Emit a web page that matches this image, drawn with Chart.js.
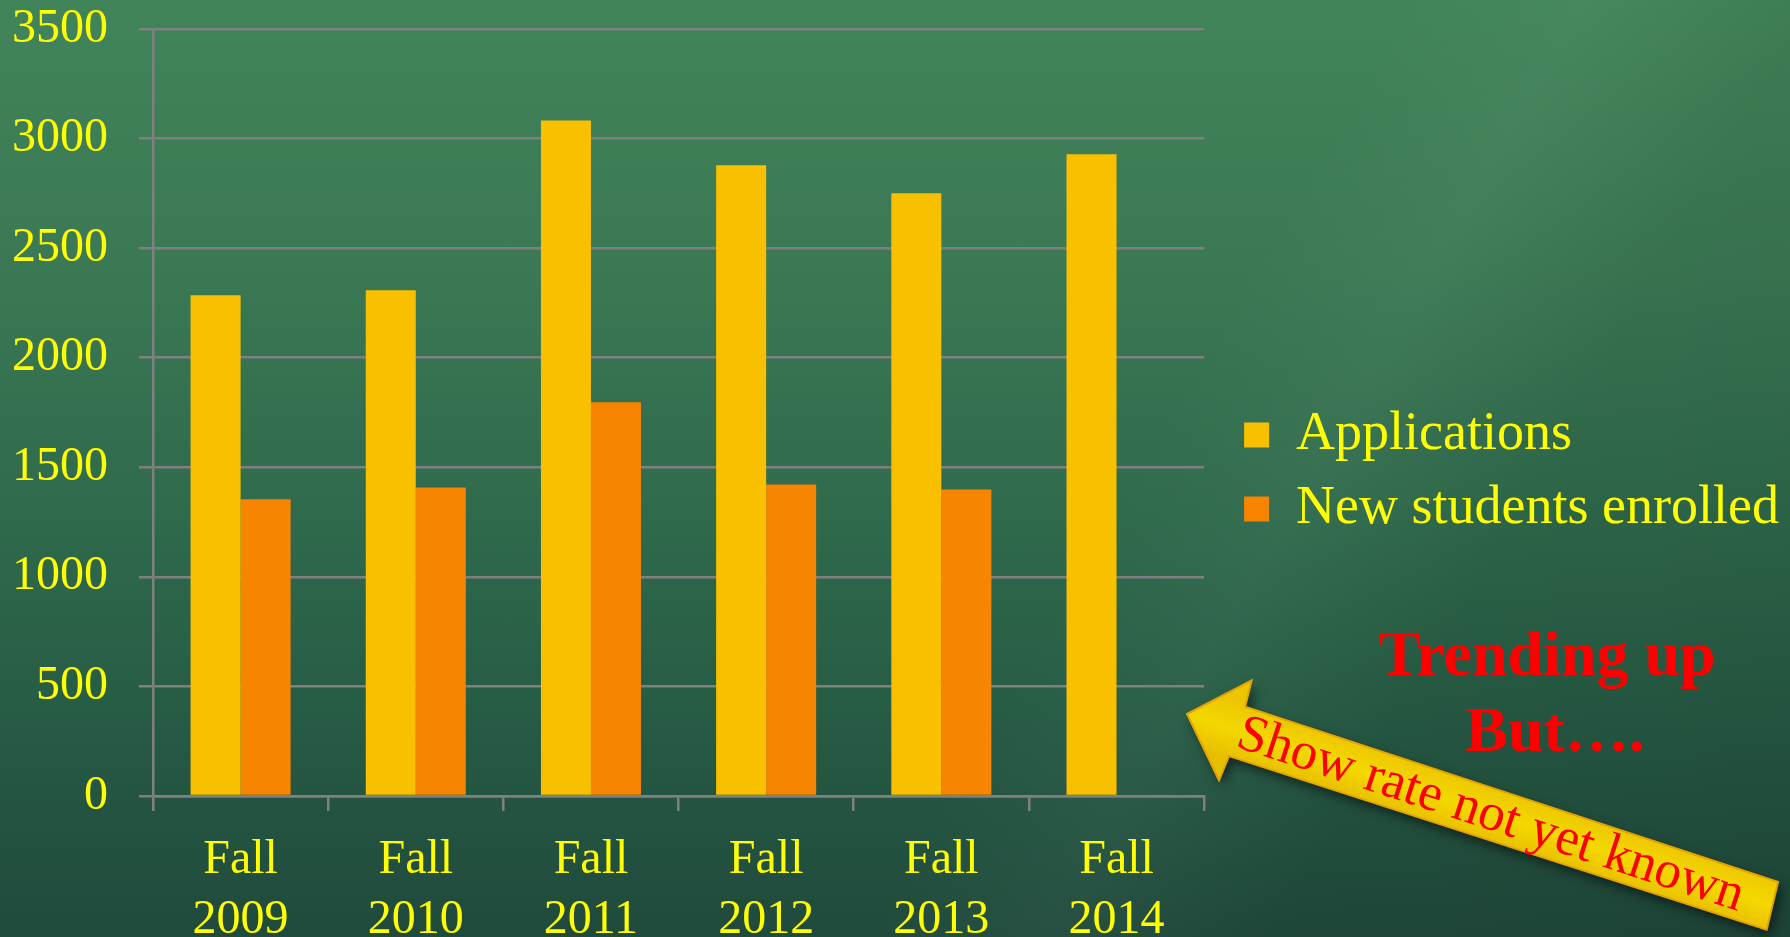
<!DOCTYPE html>
<html>
<head>
<meta charset="utf-8">
<script src="https://cdn.jsdelivr.net/npm/chart.js@4.4.1/dist/chart.umd.min.js"></script>
<style>
  html, body { margin: 0; padding: 0; }
  body {
    width: 1790px;
    height: 937px;
    overflow: hidden;
    background:
      linear-gradient(120deg, rgba(255,255,255,0) 60%, rgba(255,255,255,0.03) 68%, rgba(0,0,0,0.06) 78%, rgba(0,0,0,0.1) 100%),
      linear-gradient(180deg, #41845a 0%, #3b7954 28%, #2f6a4c 55%, #265a44 78%, #204a3c 100%);
  }
  #wrap { position: relative; width: 1790px; height: 937px; }
</style>
</head>
<body>
<div id="wrap"><canvas id="enrollment-chart" width="1790" height="937"></canvas></div>
<script>
const CATEGORIES = [['Fall', '2009'], ['Fall', '2010'], ['Fall', '2011'], ['Fall', '2012'], ['Fall', '2013'], ['Fall', '2014']];
const APPLICATIONS = [2285, 2308, 3082, 2878, 2750, 2928];
const ENROLLED = [1354, 1408, 1797, 1421, 1399, null];
const SERIES_NAMES = ['Applications', 'New students enrolled'];
const Y_TICKS = [0, 500, 1000, 1500, 2000, 2500, 3000, 3500];
const NOTE_LINES = ['Trending up', 'But….'];
const ARROW_TEXT = 'Show rate not yet known';

const YELLOW = '#FFFF00';
const GRID = '#808080';
const FONT = '"Liberation Serif", "Times New Roman", serif';

// red note + yellow arrow drawn over the finished chart
const slideNotes = {
  id: 'slideNotes',
  afterDraw(chart) {
    const { ctx } = chart;
    ctx.save();
    ctx.fillStyle = '#FF0000';
    ctx.font = `bold 64px ${FONT}`;
    ctx.textAlign = 'center';
    ctx.textBaseline = 'alphabetic';
    ctx.fillText(NOTE_LINES[0], 1547, 675);
    ctx.fillText(NOTE_LINES[1], 1555, 751);
    ctx.restore();

    ctx.save();
    ctx.translate(1187, 714);
    ctx.rotate(18.1 * Math.PI / 180);
    ctx.beginPath();
    ctx.moveTo(0, 0);
    ctx.lineTo(51, -52);
    ctx.lineTo(53, -25);
    ctx.lineTo(614, -24);
    ctx.lineTo(618, 25);
    ctx.lineTo(53, 27);
    ctx.lineTo(51, 53);
    ctx.closePath();
    const fill = ctx.createLinearGradient(0, -30, 0, 30);
    fill.addColorStop(0, '#ecc400');
    fill.addColorStop(0.5, '#f4d800');
    fill.addColorStop(1, '#e8be00');
    ctx.shadowColor = 'rgba(0,0,0,0.55)';
    ctx.shadowBlur = 12;
    ctx.shadowOffsetX = 4;
    ctx.shadowOffsetY = 6;
    ctx.fillStyle = fill;
    ctx.fill();
    ctx.shadowColor = 'transparent';
    ctx.strokeStyle = '#e4a400';
    ctx.lineWidth = 2;
    ctx.stroke();

    ctx.fillStyle = '#FF0000';
    ctx.font = `53px ${FONT}`;
    ctx.textAlign = 'center';
    ctx.textBaseline = 'alphabetic';
    ctx.fillText(ARROW_TEXT, 320, 16);
    ctx.restore();
  },
};

function render() {
  const el = document.getElementById('enrollment-chart');
  if (!el || typeof window.Chart === 'undefined') return;

  new Chart(el, {
    type: 'bar',
    data: {
      labels: CATEGORIES,
      datasets: [
        {
          label: SERIES_NAMES[0],
          data: APPLICATIONS,
          backgroundColor: '#F9C000',
          borderWidth: 0,
          barPercentage: 1,
          categoryPercentage: 0.571,
        },
        {
          label: SERIES_NAMES[1],
          data: ENROLLED,
          backgroundColor: '#F78500',
          borderWidth: 0,
          barPercentage: 1,
          categoryPercentage: 0.571,
        },
      ],
    },
    options: {
      responsive: false,
      animation: false,
      devicePixelRatio: 1,
      layout: { padding: { left: -19, right: 1, top: -25, bottom: -32 } },
      plugins: {
        legend: {
          position: 'right',
          maxWidth: 700,
          labels: {
            color: YELLOW,
            font: { family: FONT, size: 54 },
            boxWidth: 25,
            boxHeight: 25,
            padding: 20,
          },
        },
        tooltip: { enabled: false },
      },
      scales: {
        x: {
          grid: { drawOnChartArea: false, drawTicks: true, tickLength: 15, color: GRID, lineWidth: 2.5 },
          border: { color: GRID, width: 2.5 },
          ticks: {
            color: YELLOW,
            font: { family: FONT, size: 48, lineHeight: 1.25 },
            padding: 19,
            maxRotation: 0,
            autoSkip: false,
          },
          afterFit: (scale) => {
            scale.paddingLeft = 0;
            scale.paddingRight = 0;
          },
        },
        y: {
          min: 0,
          max: 3500,
          afterBuildTicks: (scale) => {
            scale.ticks = Y_TICKS.map((value) => ({ value }));
          },
          grid: { color: GRID, lineWidth: 2.5, tickLength: 14 },
          border: { color: GRID, width: 2.5 },
          ticks: {
            color: YELLOW,
            font: { family: FONT, size: 48, lineHeight: 1.2 },
            padding: 31,
            callback: (value) => String(value),
          },
          afterFit: (scale) => {
            scale.paddingTop = 29;
            scale.paddingBottom = 0;
          },
        },
        spacer: {
          type: 'linear',
          position: 'right',
          grid: { display: false },
          border: { display: false },
          ticks: { display: false },
          afterFit: (scale) => {
            scale.width = 20;
            scale.paddingTop = 0;
            scale.paddingBottom = 0;
          },
        },
      },
    },
    plugins: [slideNotes],
  });
}

if (document.readyState === 'loading') {
  document.addEventListener('DOMContentLoaded', render);
} else {
  render();
}
</script>
</body>
</html>
